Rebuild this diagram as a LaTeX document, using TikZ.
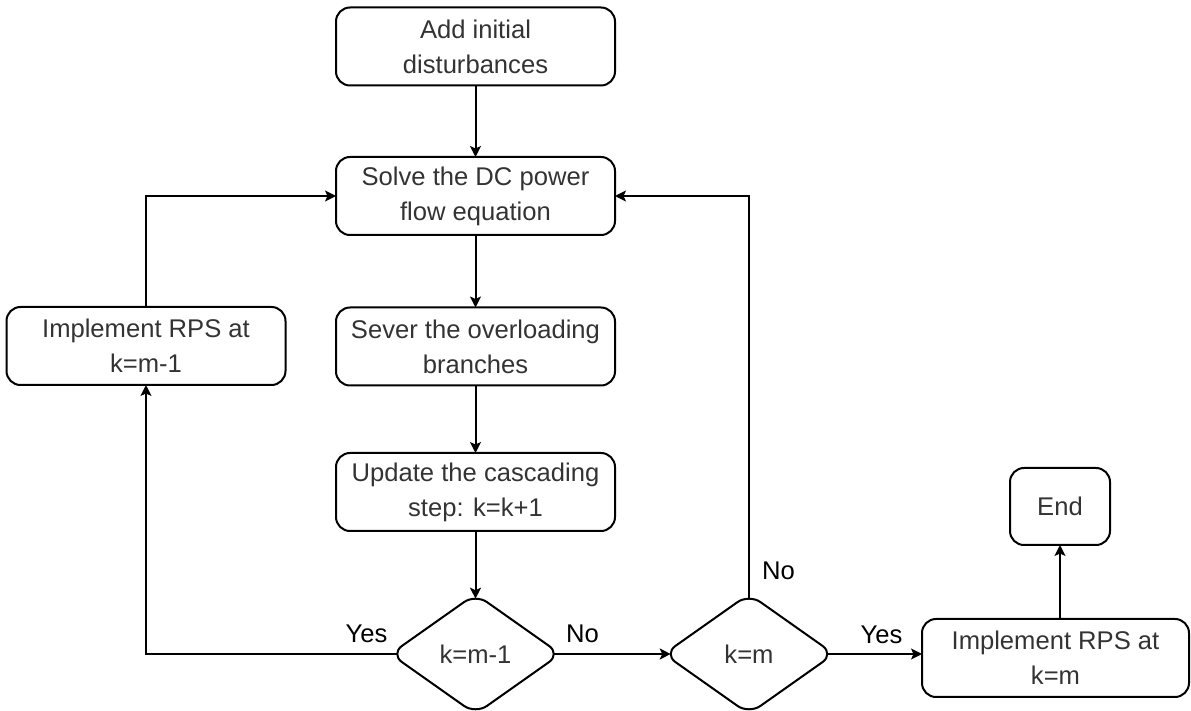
\documentclass[tikz,border=0pt]{standalone}
\usepackage{fontspec}
\setmainfont{Liberation Sans}
\usetikzlibrary{shapes.geometric,arrows.meta}
\begin{document}
\begin{tikzpicture}[x=0.5pt,y=-0.5pt,
  every node/.style={font=\fontsize{12.8}{17.5}\selectfont},
  box/.style={draw, line width=1pt, rounded corners=7pt, minimum width=139.5pt,
    minimum height=39pt, align=center, text=black!80, inner sep=2pt, outer sep=0pt},
  decision/.style={draw, diamond, line width=1pt, rounded corners=7pt,
    minimum width=85pt, minimum height=60pt, inner sep=0pt, outer sep=0pt, text=black!80},
  arr/.style={line width=1pt, -{Stealth[length=5.5pt,width=5.5pt,inset=1.3pt]}},
  lbl/.style={inner sep=0pt, text=black}]
\useasboundingbox (0,0) rectangle (1191,711);

% process boxes
\node[box] (add)    at (475.5,46.5) {Add initial\\disturbances};
\node[box] (solve)  at (475.5,196)  {Solve the DC power\\flow equation};
\node[box] (sever)  at (475.5,346.5){Sever the overloading\\branches};
\node[box] (update) at (475.5,492)  {Update the cascading\\step: k=k+1};
\node[box] (i1)     at (146,346)    {Implement RPS at\\k=m-1};
\node[box, minimum width=133.5pt] (i2) at (1055.5,658) {Implement RPS at\\k=m};
\node[box, minimum width=50pt, minimum height=38.5pt] (e) at (1060,506.5) {End};

% decisions
\node[decision] (d1) at (475.5,654) {k=m-1};
\node[decision] (d2) at (749,654) {k=m};

% main flow
\draw[arr] (add.south) -- (solve.north);
\draw[arr] (solve.south) -- (sever.north);
\draw[arr] (sever.south) -- (update.north);
\draw[arr, shorten >=-2.35pt] (update.south) -- (d1.north);
\draw[arr, shorten <=-3.35pt, shorten >=-3.35pt] (d1.east) -- (d2.west);

% yes branch of k=m-1
\draw[arr, shorten <=-3.35pt] (d1.west) -| (i1.south);
\draw[arr] (i1.north) |- (solve.west);

% no branch of k=m
\draw[arr, shorten <=-2.35pt] (d2.north) |- (solve.east);

% yes branch of k=m
\draw[arr, shorten <=-3.35pt] (d2.east) -- (d2.east -| i2.west);
\draw[arr] (i2.north -| e.south) -- (e.south);

% branch labels
\node[lbl] (yes1) at (366.5,634) {Yes};
\node[lbl] (no1)  at (582.5,634) {No};
\node[lbl] (no2)  at (778.5,571) {No};
\node[lbl] (yes2) at (881.5,635) {Yes};
\end{tikzpicture}
\end{document}
